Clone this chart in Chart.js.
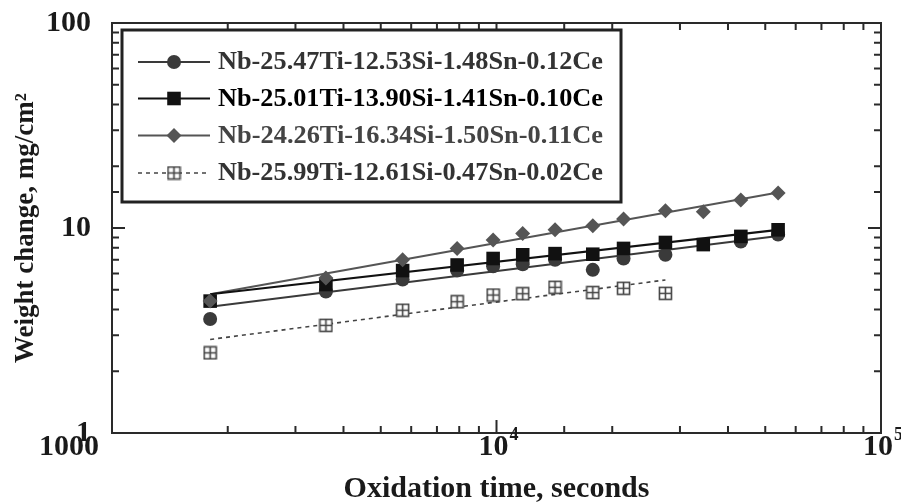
<!DOCTYPE html>
<html><head><meta charset="utf-8">
<script src="https://cdn.jsdelivr.net/npm/chart.js@4/dist/chart.umd.min.js"></script>
<style>html,body{margin:0;padding:0;background:#fff}#wrap{width:901px;height:504px;position:relative}</style>
</head><body><div id="wrap"><canvas id="c" width="901" height="504"></canvas></div>
<script>
// ---- data ----
const times = [1800, 3600, 5700, 7900, 9800, 11700, 14200, 17800, 21400, 27500, 34500, 43200, 54000];
const seriesNames = [
  'Nb-25.47Ti-12.53Si-1.48Sn-0.12Ce',
  'Nb-25.01Ti-13.90Si-1.41Sn-0.10Ce',
  'Nb-24.26Ti-16.34Si-1.50Sn-0.11Ce',
  'Nb-25.99Ti-12.61Si-0.47Sn-0.02Ce'
];
const circles  = [3.6, 4.9, 5.6, 6.2, 6.5, 6.65, 7.0, 6.25, 7.1, 7.4, null, 8.6, 9.3];
const squares  = [4.4, 5.3, 6.2, 6.6, 7.1, 7.4, 7.5, 7.45, 7.95, 8.5, 8.3, 9.1, 9.8];
const diamonds = [4.4, 5.7, 7.0, 7.95, 8.75, 9.4, 9.8, 10.25, 11.05, 12.15, 12.0, 13.7, 14.8];
const openSquares = [2.46, 3.35, 3.97, 4.37, 4.71, 4.78, 5.14, 4.84, 5.08, 4.8];
const fitTimes = [1800, 54000];
const fitTimesDotted = [1800, 27500];
const fitCircle = [4.13, 9.15];
const fitSquare = [4.75, 9.8];
const fitDiamond = [4.75, 14.9];
const fitOpen = [2.86, 5.58];
const yTickLabels = [1, 10, 100];
const xTickValues = [1000, 10000, 100000];
const xTickBase = ['1000', '10', '10'];
const xTickExp = ['', '4', '5'];
const xTitle = 'Oxidation time, seconds';
const yTitle = 'Weight change, mg/cm\u00B2';

// ---- styling ----
const SERIF = '"Liberation Serif", "DejaVu Serif", serif';
const colCircle = '#3a3a3a', colSquare = '#111111', colDiamond = '#555555', colOpen = '#444444';

function makeOpenSquare() {
  const s = 15, c = document.createElement('canvas');
  c.width = s; c.height = s;
  const g = c.getContext('2d');
  g.fillStyle = '#fff'; g.fillRect(1, 1, 13, 13);
  g.strokeStyle = colOpen; g.lineWidth = 1.6;
  g.strokeRect(1.5, 1.5, 12, 12);
  g.beginPath(); g.moveTo(7.5, 1.5); g.lineTo(7.5, 13.5); g.moveTo(1.5, 7.5); g.lineTo(13.5, 7.5); g.stroke();
  return c;
}
const openImg = makeOpenSquare();

function pts(xs, ys) {
  const out = [];
  ys.forEach((v, i) => { if (v !== null) out.push({x: xs[i], y: v}); });
  return out;
}

const markerDefs = [
  {pointStyle: 'circle', radius: 7, color: colCircle},
  {pointStyle: 'rect', radius: 9.6, color: colSquare},
  {pointStyle: 'rectRot', radius: 7.5, color: colDiamond},
  {pointStyle: openImg, radius: 7, color: colOpen}
];
const lineDefs = [
  {color: colCircle, width: 2, dash: []},
  {color: colSquare, width: 2.2, dash: []},
  {color: colDiamond, width: 2, dash: []},
  {color: colOpen, width: 1.6, dash: [4, 4]}
];

const datasets = [
  {label: 'fit-d', data: pts(fitTimes, fitDiamond), showLine: true, borderColor: colDiamond, borderWidth: 2, pointRadius: 0, order: 7},
  {label: 'fit-s', data: pts(fitTimes, fitSquare), showLine: true, borderColor: colSquare, borderWidth: 2.2, pointRadius: 0, order: 6},
  {label: 'fit-c', data: pts(fitTimes, fitCircle), showLine: true, borderColor: colCircle, borderWidth: 2, pointRadius: 0, order: 5},
  {label: 'fit-o', data: pts(fitTimesDotted, fitOpen), showLine: true, borderColor: colOpen, borderWidth: 1.6, borderDash: [4, 4], pointRadius: 0, order: 4},
  {label: seriesNames[3], data: pts(times, openSquares), showLine: false, pointStyle: openImg, pointRadius: 7, order: 3},
  {label: seriesNames[0], data: pts(times, circles), showLine: false, pointStyle: 'circle', pointRadius: 7, backgroundColor: colCircle, borderColor: colCircle, borderWidth: 0, order: 2},
  {label: seriesNames[1], data: pts(times, squares), showLine: false, pointStyle: 'rect', pointRadius: 9.6, backgroundColor: colSquare, borderColor: colSquare, borderWidth: 0, order: 1},
  {label: seriesNames[2], data: pts(times, diamonds), showLine: false, pointStyle: 'rectRot', pointRadius: 7.5, backgroundColor: colDiamond, borderColor: colDiamond, borderWidth: 0, order: 0}
];

const decor = {
  id: 'decor',
  afterDatasetsDraw(chart) {
    const ctx = chart.ctx, a = chart.chartArea;
    const xs = chart.scales.x, ys = chart.scales.y;
    ctx.save();
    // frame
    ctx.strokeStyle = '#2a2a2a'; ctx.lineWidth = 2;
    ctx.strokeRect(a.left, a.top, a.right - a.left, a.bottom - a.top);
    // inward ticks on all sides
    ctx.lineWidth = 2;
    const isMajor = v => Math.abs(Math.log10(v) - Math.round(Math.log10(v))) < 1e-9;
    xs.ticks.forEach(t => {
      const px = xs.getPixelForValue(t.value);
      if (px <= a.left + 1 || px >= a.right - 1) return;
      const len = isMajor(t.value) ? 13 : 7;
      ctx.beginPath();
      ctx.moveTo(px, a.bottom); ctx.lineTo(px, a.bottom - len);
      ctx.moveTo(px, a.top); ctx.lineTo(px, a.top + len);
      ctx.stroke();
    });
    ys.ticks.forEach(t => {
      const py = ys.getPixelForValue(t.value);
      if (py <= a.top + 1 || py >= a.bottom - 1) return;
      const len = isMajor(t.value) ? 13 : 7;
      ctx.beginPath();
      ctx.moveTo(a.left, py); ctx.lineTo(a.left + len, py);
      ctx.moveTo(a.right, py); ctx.lineTo(a.right - len, py);
      ctx.stroke();
    });
    // x tick labels with superscript exponents
    ctx.fillStyle = '#1a1a1a';
    ctx.textBaseline = 'alphabetic';
    xTickValues.forEach((v, i) => {
      const px = xs.getPixelForValue(v);
      ctx.font = 'bold 30px ' + SERIF;
      if (!xTickExp[i]) {
        ctx.textAlign = 'right';
        ctx.fillText(xTickBase[i], px - 13, 455);
      } else {
        ctx.textAlign = 'right';
        ctx.fillText(xTickBase[i], px + 12, 455);
        ctx.font = 'bold 18px ' + SERIF;
        ctx.textAlign = 'left';
        ctx.fillText(xTickExp[i], px + 13, 440);
      }
    });
    // legend
    const L = {x: 122, y: 30, w: 499, h: 172};
    ctx.fillStyle = '#fff';
    ctx.fillRect(L.x, L.y, L.w, L.h);
    ctx.strokeStyle = '#222'; ctx.lineWidth = 3;
    ctx.strokeRect(L.x, L.y, L.w, L.h);
    const rowY = [62, 98.5, 135.5, 173];
    const textCols = ['#333', '#000', '#444', '#333'];
    seriesNames.forEach((name, i) => {
      const y = rowY[i], ld = lineDefs[i], md = markerDefs[i];
      ctx.strokeStyle = ld.color; ctx.lineWidth = ld.width; ctx.setLineDash(ld.dash);
      ctx.beginPath(); ctx.moveTo(138, y); ctx.lineTo(210, y); ctx.stroke();
      ctx.setLineDash([]);
      ctx.fillStyle = md.color; ctx.strokeStyle = md.color; ctx.lineWidth = 0.01;
      Chart.helpers.drawPoint(ctx, {pointStyle: md.pointStyle, radius: md.radius, rotation: 0, borderWidth: 0}, 174, y);
      ctx.fillStyle = textCols[i];
      ctx.font = 'bold 25px ' + SERIF;
      ctx.textAlign = 'left'; ctx.textBaseline = 'middle';
      const w = ctx.measureText(name).width;
      const k = 385 / w;
      ctx.save();
      ctx.translate(218, y + 1);
      ctx.scale(k, 1);
      ctx.fillText(name, 0, 0);
      ctx.restore();
    });
    ctx.restore();
  }
};

new Chart(document.getElementById('c'), {
  type: 'scatter',
  data: {datasets},
  plugins: [decor],
  options: {
    responsive: false, animation: false, devicePixelRatio: 1,
    layout: {padding: {top: 23, right: 20, left: 0, bottom: 0}},
    plugins: {legend: {display: false}, tooltip: {enabled: false}},
    scales: {
      x: {
        type: 'logarithmic', position: 'bottom', min: 1000, max: 100000,
        grid: {display: false, drawTicks: false}, border: {display: false},
        ticks: {display: false},
        title: {display: true, text: xTitle, color: '#1a1a1a', font: {family: SERIF, size: 30, weight: 'bold', lineHeight: 1}, padding: {top: 0, bottom: 0}},
        afterFit(s) { s.height = 71; s.paddingLeft = 0; s.paddingRight = 0; }
      },
      y: {
        type: 'logarithmic', position: 'left', min: 1, max: 100,
        grid: {display: false, drawTicks: false}, border: {display: false},
        ticks: {
          autoSkip: false, padding: 21, color: '#1a1a1a',
          font: {family: SERIF, size: 30, weight: 'bold', lineHeight: 1},
          callback: v => (yTickLabels.includes(v) ? String(v) : '')
        },
        title: {display: true, text: yTitle, color: '#1a1a1a', font: {family: SERIF, size: 27, weight: 'bold', lineHeight: 1}, padding: {top: 13, bottom: 0}},
        afterFit(s) { s.width = 112; s.paddingTop = 0; s.paddingBottom = 0; }
      }
    }
  }
});
</script>
</body></html>
